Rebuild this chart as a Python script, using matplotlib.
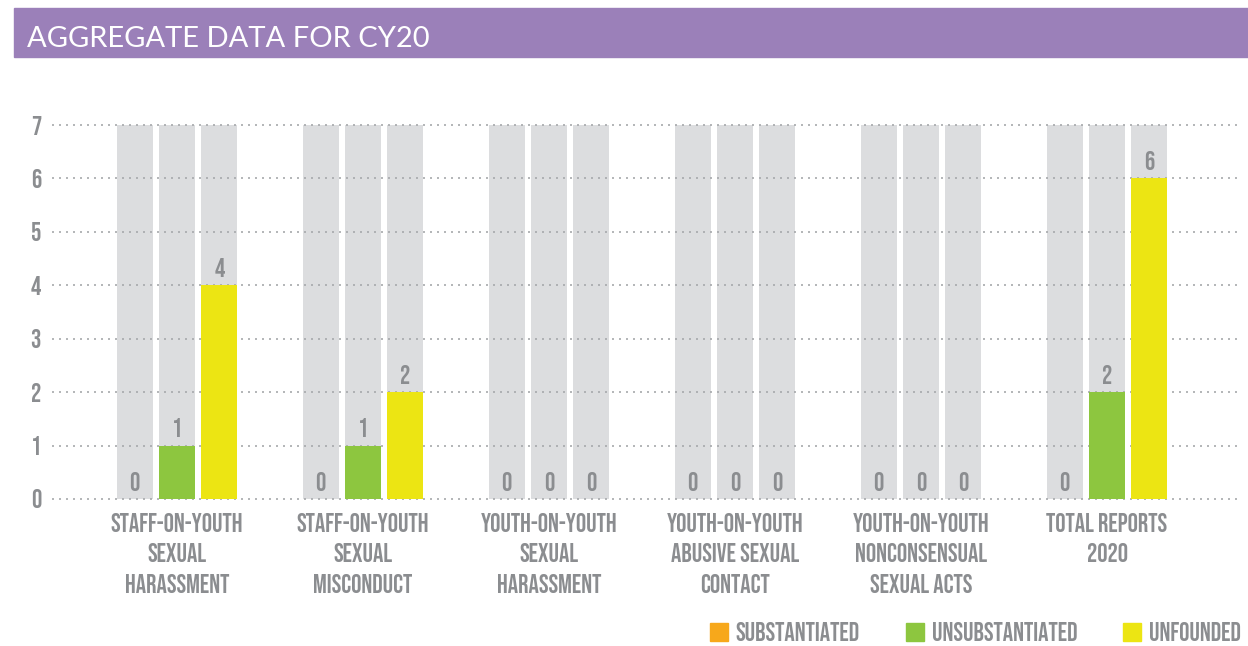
import numpy as np
import matplotlib
matplotlib.use('Agg')
import matplotlib.pyplot as plt
from matplotlib.patches import Rectangle, Patch

# data
categories = ['STAFF-ON-YOUTH\nSEXUAL\nHARASSMENT',
              'STAFF-ON-YOUTH\nSEXUAL\nMISCONDUCT',
              'YOUTH-ON-YOUTH\nSEXUAL\nHARASSMENT',
              'YOUTH-ON-YOUTH\nABUSIVE SEXUAL\nCONTACT',
              'YOUTH-ON-YOUTH\nNONCONSENSUAL\nSEXUAL ACTS',
              'TOTAL REPORTS\n2020']
substantiated = [0, 0, 0, 0, 0, 0]
unsubstantiated = [1, 1, 0, 0, 0, 2]
unfounded = [4, 2, 0, 0, 0, 6]
series_names = ['SUBSTANTIATED', 'UNSUBSTANTIATED', 'UNFOUNDED']
y_ticks = [0, 1, 2, 3, 4, 5, 6, 7]

colors = ['#f7a81b', '#8dc63f', '#ece513']
track_color = '#dcdddf'
text_color = '#8b8d90'
label_family = ['Bebas Neue', 'DejaVu Sans']
fs = 18.5

fig = plt.figure(figsize=(12.48, 6.46), dpi=100)

# title banner
fig.patches.append(Rectangle((14 / 1248, 1 - 57 / 646), 1, 49 / 646,
                             transform=fig.transFigure, color='#9b80b9', zorder=0))
fig.text(27 / 1248, 1 - 47 / 646, 'AGGREGATE DATA FOR CY20', color='white',
         fontsize=21, family='Lato', va='baseline', ha='left')

ax = fig.add_axes([52 / 1248, 1 - 499 / 646, 1188 / 1248, 374 / 646])

x = np.arange(len(categories))
width = 0.194
offset = 0.228
y_max = y_ticks[-1]

ax.hlines(y_ticks, -0.672, 5.715, colors='#a7a9ac', linewidth=1.2,
          linestyles=(0, (1.2, 3)), zorder=2, clip_on=False)

for i, vals in enumerate([substantiated, unsubstantiated, unfounded]):
    pos = x + (i - 1) * offset
    ax.bar(pos, [y_max] * len(x), width, color=track_color, zorder=1)
    ax.bar(pos, vals, width, color=colors[i], zorder=3)
    for p, v in zip(pos, vals):
        ax.annotate(str(v), (p, v), xytext=(0, 6), textcoords='offset points',
                    ha='center', va='bottom', family=label_family, fontsize=fs,
                    color=text_color, zorder=4)

ax.set_xlim(-0.672, 5.715)
ax.set_ylim(0, y_max)
ax.set_yticks(y_ticks)
ax.set_xticks(x)
ax.set_xticklabels(categories, family=label_family, fontsize=fs, color=text_color,
                   linespacing=1.6)
ax.set_yticklabels([str(t) for t in y_ticks], family=label_family, fontsize=fs,
                   color=text_color)
ax.tick_params(length=0)
ax.tick_params(axis='x', pad=10)
ax.tick_params(axis='y', pad=8)
for s in ax.spines.values():
    s.set_visible(False)

handles = [Patch(color=c) for c in colors]
leg = fig.legend(handles, series_names, loc='lower right',
                 bbox_to_anchor=(1246 / 1248, 0), ncol=3, frameon=False,
                 borderpad=0, borderaxespad=0.2,
                 handlelength=0.7, handleheight=0.7, handletextpad=0.3,
                 columnspacing=1.8, prop={'family': label_family, 'size': fs})
for t in leg.get_texts():
    t.set_color(text_color)

fig.savefig('out.png', dpi=100)
